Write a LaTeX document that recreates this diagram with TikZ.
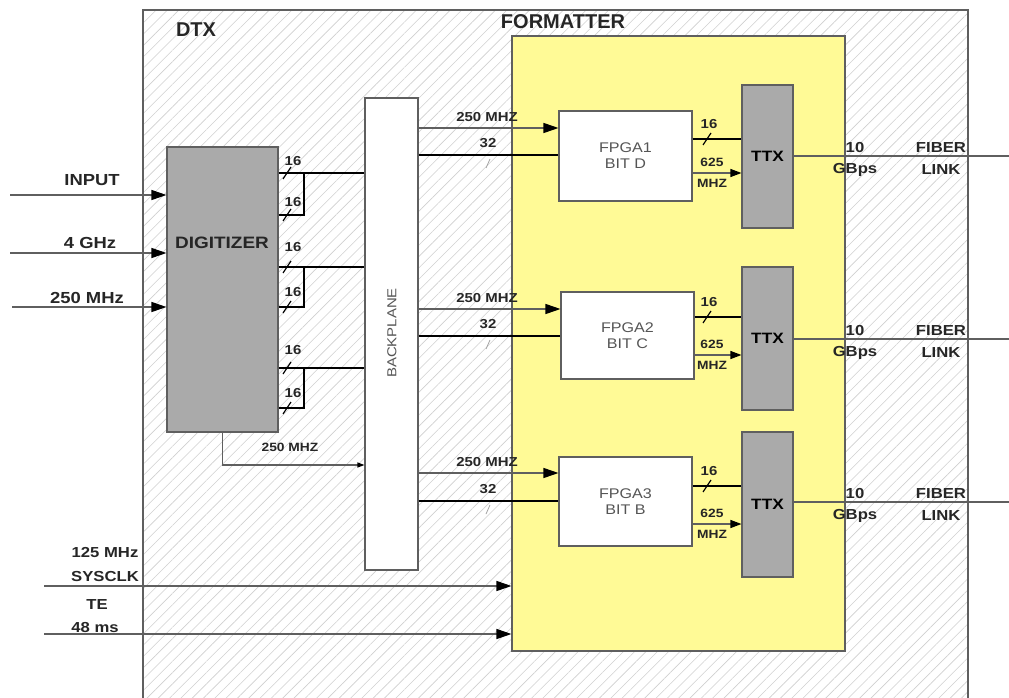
\documentclass[tikz,border=0pt]{standalone}
\usepackage{fontspec}
\setmainfont{Liberation Sans}
\newfontfamily\labf[FakeStretch=1.15]{Liberation Sans}
\usetikzlibrary{arrows.meta,patterns.meta}
\definecolor{fmtyellow}{RGB}{255,250,150}
\definecolor{boxgray}{RGB}{170,170,170}
\definecolor{linegray}{RGB}{95,95,95}
\definecolor{hatchgray}{RGB}{208,208,208}
\definecolor{txtgray}{RGB}{85,85,85}
\tikzset{
  lbl/.style={font=\labf\bfseries\fontsize{13}{13}\selectfont, inner sep=0pt, text=black!85},
  biglbl/.style={font=\labf\bfseries\fontsize{16}{16}\selectfont, inner sep=0pt, text=black!85},
  midlbl/.style={font=\labf\bfseries\fontsize{14.5}{14.5}\selectfont, inner sep=0pt, text=black!85},
  smalllbl/.style={font=\labf\bfseries\fontsize{12}{12}\selectfont, inner sep=0pt, text=black!85},
  titlelbl/.style={font=\bfseries\fontsize{20}{20}\selectfont, inner sep=0pt, text=black!85},
  boxbase/.style={draw=linegray, line width=1.1pt, inner sep=0pt, anchor=center},
  graybox/.style={boxbase, fill=boxgray},
  whitebox/.style={boxbase, fill=white},
  sig/.style={draw=linegray, line width=1.1pt},
  tipbig/.style={-{Triangle[length=15pt,width=10pt,black]}},
  tipmid/.style={-{Triangle[length=11pt,width=8pt,black]}},
  tipsmall/.style={-{Triangle[length=7pt,width=5pt,black]}},
  bus/.style={draw=black, line width=2.6pt},
  slashmark/.style={draw=black, line width=1.2pt},
  faintslash/.style={draw=gray!70, line width=0.8pt}
}
\begin{document}
\begin{tikzpicture}[x=1pt,y=-1pt]
\useasboundingbox (0,0) rectangle (1009,698);
\fill[white] (0,0) rectangle (1009,698);

% outer DTX box with hatching
\node[draw=linegray, line width=1.1pt, inner sep=0pt,
      pattern={Lines[angle=45,distance=8pt,line width=0.6pt]}, pattern color=hatchgray,
      minimum width=825pt, minimum height=720pt] (dtx) at (555.5,370) {};
\node[titlelbl] (dtxlbl) at (196,30) {DTX};

% formatter
\node[boxbase, fill=fmtyellow, minimum width=333pt, minimum height=615pt] (fmt) at (678.5,343.5) {};
\node[titlelbl] (fmtlbl) at (563,22) {FORMATTER};

% digitizer
\node[graybox, minimum width=111pt, minimum height=285pt] (dig) at (222.5,289.5) {};
\node[font=\labf\bfseries\fontsize{16.5}{16.5}\selectfont, inner sep=0pt, text=black!85] (diglbl) at (222,243) {DIGITIZER};

% backplane
\node[whitebox, minimum width=53pt, minimum height=472pt] (bp) at (391.5,334) {};
\node[font=\labf\fontsize{13}{13}\selectfont, text=txtgray, rotate=90, inner sep=0pt] (bplbl) at (392,333) {BACKPLANE};

% FPGAs
\node[whitebox, minimum width=133pt, minimum height=90pt, align=center,
      font=\labf\fontsize{14}{16}\selectfont, text=txtgray] (fpga1) at (625.5,156) {FPGA1\\BIT D};
\node[whitebox, minimum width=133pt, minimum height=87pt, align=center,
      font=\labf\fontsize{14}{16}\selectfont, text=txtgray] (fpga2) at (627.5,335.5) {FPGA2\\BIT C};
\node[whitebox, minimum width=133pt, minimum height=89pt, align=center,
      font=\labf\fontsize{14}{16}\selectfont, text=txtgray] (fpga3) at (625.5,501.5) {FPGA3\\BIT B};

% TTX
\node[graybox, minimum width=51pt, minimum height=143pt, font=\labf\bfseries\fontsize{15}{15}\selectfont] (ttx1) at (767.5,156.5) {TTX};
\node[graybox, minimum width=51pt, minimum height=143pt, font=\labf\bfseries\fontsize{15}{15}\selectfont] (ttx2) at (767.5,338.5) {TTX};
\node[graybox, minimum width=51pt, minimum height=145pt, font=\labf\bfseries\fontsize{15}{15}\selectfont] (ttx3) at (767.5,504.5) {TTX};

% inputs to digitizer
\coordinate (in1) at (10,195);
\coordinate (in2) at (10,253);
\coordinate (in3) at (12,307);
\draw[sig,tipbig] (in1) -- (dig.west |- in1);
\draw[sig,tipbig] (in2) -- (dig.west |- in2);
\draw[sig,tipbig] (in3) -- (dig.west |- in3);
\node[biglbl] (inlbl1) at (92,180) {INPUT};
\node[biglbl] (inlbl2) at (90,243) {4 GHz};
\node[biglbl] (inlbl3) at (87,298) {250 MHz};

% digitizer buses to backplane
\foreach \g/\ya/\yb/\la/\lb in {1/173/215/161/202, 2/267/307/247/292, 3/368/408/350/393} {
  \coordinate (j\g) at (304,\ya);
  \draw[bus] (dig.east |- 0,\ya) -- (bp.west |- 0,\ya);
  \draw[bus, line join=miter] (dig.east |- 0,\yb) -| (j\g);
  \draw[slashmark] (283,\ya+6) -- (291,\ya-6);
  \draw[slashmark] (283,\yb+6) -- (291,\yb-6);
  \node[lbl] at (293,\la) {16};
  \node[lbl] at (293,\lb) {16};
}

% 250 MHz from digitizer to backplane
\coordinate (dclk) at (222.5,465);
\draw[sig,tipsmall] (dig.south) -- (dclk) -- (bp.west |- dclk);
\node[smalllbl] (dclklbl) at (290,447) {250 MHZ};

% backplane -> FPGA -> TTX -> fiber
\foreach \i/\clk/\dd/\bb/\cc/\oo in {1/128/155/139/173/156, 2/309/336/317/355/339, 3/473/501/486/524/502} {
  \draw[sig,tipbig] (bp.east |- 0,\clk) -- (fpga\i.west |- 0,\clk);
  \node[lbl] at (487,\clk-11) {250 MHZ};
  \draw[bus] (bp.east |- 0,\dd) -- (fpga\i.west |- 0,\dd);
  \node[lbl] at (488,\dd-12) {32};
  \draw[faintslash] (486,\dd+13) -- (490,\dd+4);
  \draw[bus] (fpga\i.east |- 0,\bb) -- (ttx\i.west |- 0,\bb);
  \draw[slashmark] (703,\bb+6) -- (711,\bb-6);
  \node[lbl] at (709,\bb-15) {16};
  \draw[sig,tipmid] (fpga\i.east |- 0,\cc) -- (ttx\i.west |- 0,\cc);
  \node[smalllbl] at (712,\cc-11) {625};
  \node[smalllbl] at (712,\cc+10) {MHZ};
  \coordinate (out\i) at (1009,\oo);
  \draw[sig] (ttx\i.east |- 0,\oo) -- (out\i);
  \node[midlbl] at (855,\oo-8) {10};
  \node[midlbl] at (855,\oo+14) {GBps};
  \node[midlbl] at (941,\oo-8) {FIBER};
  \node[midlbl] at (941,\oo+14) {LINK};
}

% system clock and TE
\coordinate (sys) at (44,586);
\coordinate (te) at (44,634);
\draw[sig,tipbig] (sys) -- (fmt.west |- sys);
\draw[sig,tipbig] (te) -- (fmt.west |- te);
\node[midlbl] (syslbl1) at (105,553) {125 MHz};
\node[midlbl] (syslbl2) at (105,577) {SYSCLK};
\node[midlbl] (telbl1) at (97,605) {TE};
\node[midlbl] (telbl2) at (95,628) {48 ms};
\end{tikzpicture}
\end{document}
